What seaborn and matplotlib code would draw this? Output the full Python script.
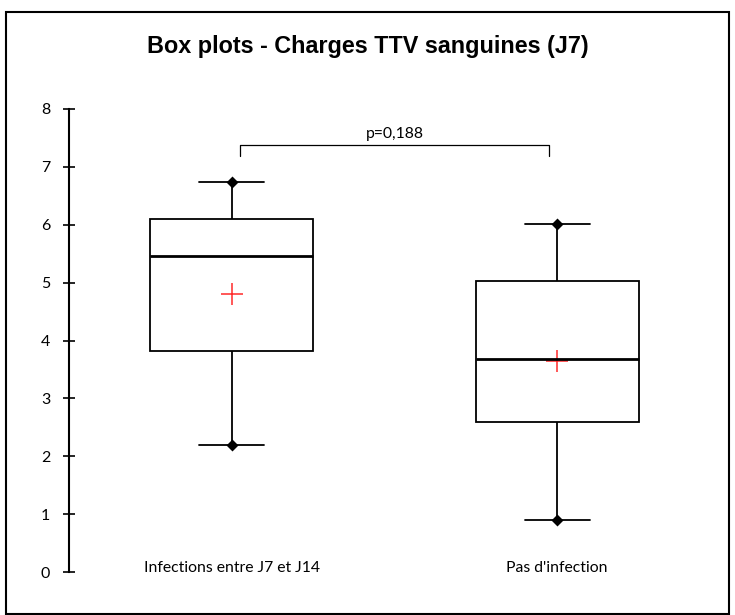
import seaborn as sns
import matplotlib.pyplot as plt
import pandas as pd
from matplotlib.patches import Rectangle

groups = ["Infections entre J7 et J14", "Pas d'infection"]
whisker_low = [2.19, 0.90]
q1 = [3.82, 2.59]
median = [5.46, 3.68]
q3 = [6.10, 5.02]
whisker_high = [6.74, 6.02]
means = [4.80, 3.64]
p_text = "p=0,188"

# 5 summary points per group -> exact quartiles with whiskers at min/max
rows = []
for i, g in enumerate(groups):
    for v in [whisker_low[i], q1[i], median[i], q3[i], whisker_high[i]]:
        rows.append({"groupe": g, "charge": v})
d = pd.DataFrame(rows)

sns.set_style("white")
plt.rcParams['font.family'] = ['Lato', 'DejaVu Sans']
plt.rcParams['text.color'] = 'black'

fig = plt.figure(figsize=(7.35, 6.15), dpi=100)
ax = fig.add_axes([69 / 735, 43 / 615, 651 / 735, 463 / 615])

sns.boxplot(data=d, x="groupe", y="charge", order=groups, whis=(0, 100), width=0.5,
            color="white", linecolor="black", linewidth=1.3, ax=ax,
            medianprops=dict(linewidth=2), capwidths=0.2)
# min / max markers
for ends in [whisker_low, whisker_high]:
    sns.pointplot(x=groups, y=ends, order=groups, linestyle="none", marker="D",
                  color="black", markersize=4, errorbar=None, ax=ax)
# means
sns.pointplot(x=groups, y=means, order=groups, linestyle="none", marker="+",
              color="#ff2a2a", markersize=16, markeredgewidth=1.1,
              errorbar=None, ax=ax)

# significance bracket
ax.plot([0.025, 0.025, 0.975, 0.975], [7.18, 7.37, 7.37, 7.18], color="black",
        lw=0.9, clip_on=False)
ax.text(0.5, 7.45, p_text, ha="center", va="bottom", fontsize=11.3)

ax.set_xlim(-0.5, 1.5)
ax.set_ylim(0, 8)
ax.set_yticks(range(0, 9))
ax.set_xlabel("")
ax.set_ylabel("")
for s in ["top", "right", "bottom"]:
    ax.spines[s].set_visible(False)
ax.spines["left"].set_linewidth(1.5)
ax.spines["left"].set_color("black")
ax.tick_params(axis="y", direction="inout", length=9, width=1.2, pad=9,
               labelsize=11.5, left=True, colors="black")
ax.tick_params(axis="x", length=0, pad=-8, labelsize=11.3, colors="black")

fig.text(0.5, 1 - 47 / 615, "Box plots - Charges TTV sanguines (J7)", ha="center",
         va="center", fontsize=16.8, fontweight="bold", family="Liberation Sans",
         color="black")
fig.patches.append(Rectangle((6 / 735, 1 / 615), 723 / 735, 602 / 615,
                             transform=fig.transFigure, fill=False,
                             edgecolor="black", lw=1.5))

fig.savefig("out.png", dpi=100)
